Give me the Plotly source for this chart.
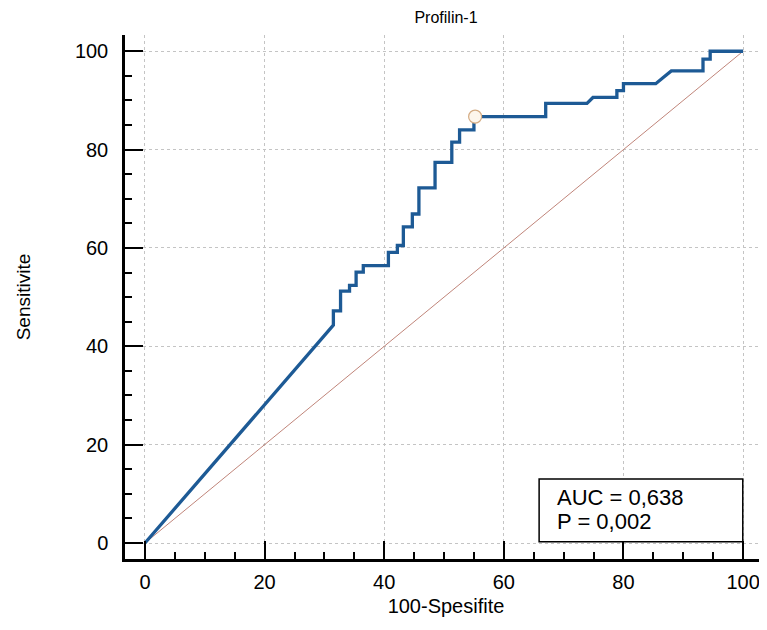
import plotly.graph_objects as go

# ROC curve (100-Specificity, Sensitivity)
fpr = [0, 31.5, 31.5, 32.7, 32.7, 34.2, 34.2, 35.3, 35.3, 36.5, 36.5, 40.7, 40.7,
       42.2, 42.2, 43.2, 43.2, 44.7, 44.7, 45.8, 45.8, 48.5, 48.5, 51.3, 51.3,
       52.6, 52.6, 55.0, 55.0, 67.0, 67.0, 73.9, 74.9, 78.9, 78.9, 80.0, 80.0,
       85.4, 86.6, 88.0, 93.3, 93.3, 94.5, 94.5, 100]
tpr = [0, 44.3, 47.2, 47.2, 51.2, 51.2, 52.4, 52.4, 55.1, 55.1, 56.4, 56.4, 59.1,
       59.1, 60.5, 60.5, 64.3, 64.3, 66.9, 66.9, 72.2, 72.2, 77.4, 77.4, 81.5,
       81.5, 84.0, 84.0, 86.7, 86.7, 89.4, 89.4, 90.6, 90.6, 92.0, 92.0, 93.4,
       93.4, 94.6, 96.0, 96.0, 98.4, 98.4, 100, 100]
ref_x = [0, 100]
ref_y = [0, 100]
cut_x = [55.2]
cut_y = [86.7]
tick_vals = [0, 20, 40, 60, 80, 100]
auc_lines = ["AUC = 0,638", "P = 0,002"]

FONT = "Liberation Sans, Arial, sans-serif"

fig = go.Figure()
fig.add_trace(go.Scatter(x=ref_x, y=ref_y, mode="lines",
                         line=dict(color="#c0857a", width=1), hoverinfo="skip"))
fig.add_trace(go.Scatter(x=fpr, y=tpr, mode="lines",
                         line=dict(color="#1d5a95", width=3.3)))
fig.add_trace(go.Scatter(x=cut_x, y=cut_y, mode="markers",
                         marker=dict(size=13, color="#fdf6ec",
                                     line=dict(color="#d4ab82", width=1.2))))

fig.add_shape(type="rect", xref="x", yref="y", x0=65.9, x1=99.95, y0=0.25, y1=13.0,
              line=dict(color="black", width=1.5), fillcolor="white", layer="above")
fig.add_annotation(x=68.6, y=9.3, xref="x", yref="y", text=auc_lines[0],
                   showarrow=False, xanchor="left", yanchor="middle",
                   font=dict(family=FONT, size=22, color="black"))
fig.add_annotation(x=68.6, y=4.3, xref="x", yref="y", text=auc_lines[1],
                   showarrow=False, xanchor="left", yanchor="middle",
                   font=dict(family=FONT, size=22, color="black"))

axis_common = dict(
    tickvals=tick_vals,
    ticks="inside", ticklen=18, tickwidth=2, tickcolor="black",
    minor=dict(dtick=5, tick0=0, ticks="inside", ticklen=7, tickwidth=1.5,
               tickcolor="black", showgrid=False),
    showline=True, linecolor="black", linewidth=2.5, mirror=False,
    showgrid=True, gridcolor="#c4c4c4", griddash="dot", gridwidth=1,
    zeroline=False,
    tickfont=dict(family=FONT, size=20, color="black"),
)

# the page body adds an 8px offset; sizes below compensate for it
fig.update_layout(
    width=759, height=622,
    margin=dict(l=117, r=0, t=27, b=71, autoexpand=False),
    paper_bgcolor="white", plot_bgcolor="white",
    showlegend=False,
    title=dict(text="Profilin-1", x=(117 + 759) / 2 / 759, xanchor="center",
               y=1 - 4 / 622, yanchor="top", pad=dict(t=0, b=0),
               font=dict(family=FONT, size=16, color="black")),
    xaxis=dict(range=[-3.34, 104.0], title=dict(text="100-Spesifite", standoff=8,
               font=dict(family=FONT, size=20, color="black")),
               ticklabelstandoff=3, **axis_common),
    yaxis=dict(range=[-3.25, 103.3], title=dict(text="Sensitivite", standoff=40,
               font=dict(family=FONT, size=19, color="black")),
               ticklabelstandoff=10, **axis_common),
)

fig.write_html("out.html")
